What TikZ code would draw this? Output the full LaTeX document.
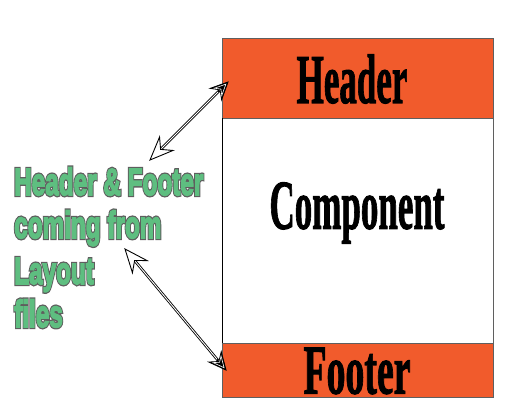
\documentclass[tikz,border=0pt]{standalone}
\usepackage{fontspec}
\usetikzlibrary{arrows.meta}
\setmainfont{Liberation Serif}
\newfontfamily\greenfont{Liberation Sans}
\definecolor{hdr}{RGB}{241,91,44}
\definecolor{lbl}{RGB}{94,190,128}
\definecolor{lblline}{RGB}{95,95,95}
\newcommand{\outlinetext}[1]{\rlap{\special{pdf:literal direct 0.37 0.37 0.37 RG 2 Tr 4.2 w}#1\special{pdf:literal direct 0 Tr}}\special{pdf:literal direct 0.368 0.745 0.502 RG 2 Tr 1.6 w}#1\special{pdf:literal direct 0 Tr}}
\newcommand{\heavytext}[1]{\special{pdf:literal direct 0 0 0 RG 2 Tr 1.2 w}#1\special{pdf:literal direct 0 Tr}}
\tikzset{
  band/.style={fill=hdr, draw=lblline, line width=0.8pt},
  bigtxt/.style={font=\fontsize{70}{70}\selectfont\bfseries, inner sep=0pt},
  greentxt/.style={font=\greenfont\bfseries\fontsize{38}{38}\selectfont, text=lbl, inner sep=0pt, anchor=base west},
  shaftout/.style={line width=2.6pt, black},
  shaftin/.style={line width=0.9pt, white},
  opentip/.style={draw=black, fill=white, line width=0.9pt, line join=miter},
  solidtip/.style={draw=black, fill=black, line width=0.9pt, line join=miter},
}
\begin{document}
\begin{tikzpicture}[x=1pt,y=-1pt]
\useasboundingbox (0,0) rectangle (507,415);
% outer box
\draw[draw=lblline, line width=0.8pt, fill=white] (222,38) rectangle (493,397);
\draw[band] (222,38) rectangle (493,118);
\draw[band] (222,343) rectangle (493,397);
\draw[black, line width=0.8pt] (222,118) -- (222,343);
% texts
\node[bigtxt] (hd) at (352,79) {\scalebox{0.5}[1]{\heavytext{Header}}};
\node[bigtxt] (cp) at (357,213) {\scalebox{0.5}[1]{\heavytext{Component}}};
\node[bigtxt] (ft) at (357,371) {\scalebox{0.54}[1]{\heavytext{Footer}}};
\node[greentxt] (l1) at (14,195) {\scalebox{0.64}[1]{\outlinetext{Header \& Footer}}};
\node[greentxt] (l2) at (14,238) {\scalebox{0.64}[1]{\outlinetext{coming from}}};
\node[greentxt] (l3) at (14,284) {\scalebox{0.64}[1]{\outlinetext{Layout}}};
\node[greentxt] (l4) at (14,327) {\scalebox{0.64}[1]{\outlinetext{files}}};
% arrows
\coordinate (ta) at (150,160);
\coordinate (tb) at (228,82);
\coordinate (ba) at (125,249);
\coordinate (bb) at (226,370);
\foreach \a/\b/\angA/\angB in {ta/tb/225/45, ba/bb/129.85/-50.15}{
  \draw[shaftout, shorten <=12pt, shorten >=12pt] (\b) -- (\a);
  \draw[shaftin, shorten <=14pt, shorten >=16pt] (\b) -- (\a);
  \begin{scope}[shift={(\a)}, rotate=\angA, x=1pt, y=1pt]
    \draw[opentip] (0,0) -- (-23,9.5) -- (-15,0) -- (-23,-9.5) -- cycle;
  \end{scope}
  \begin{scope}[shift={(\b)}, rotate=\angB, x=1pt, y=1pt]
    \draw[solidtip] (0,0) -- (-17,8) -- (-11,0) -- (-17,-8) -- cycle;
    \draw[white, line width=0.6pt] (-3,0) -- (-14,5.2) -- (-10,0) -- (-14,-5.2) -- cycle;
  \end{scope}
}
\end{tikzpicture}
\end{document}
